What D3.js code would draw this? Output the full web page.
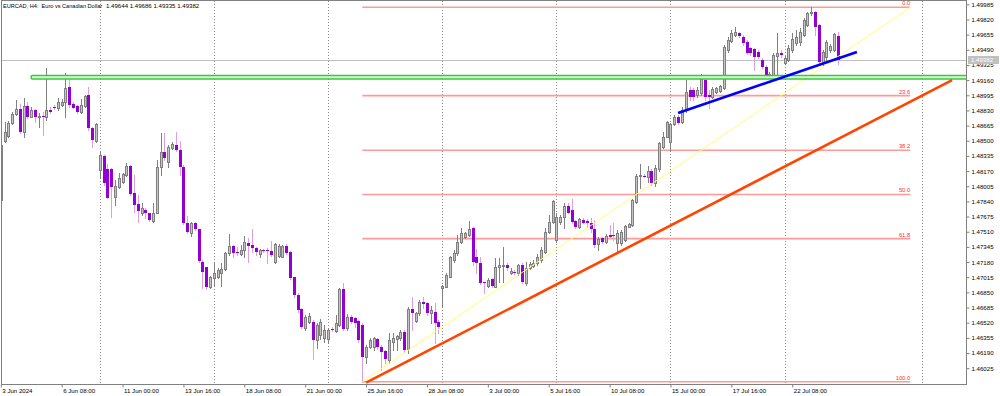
<!DOCTYPE html>
<html>
<head>
<meta charset="utf-8">
<script src="https://cdn.jsdelivr.net/npm/d3@7/dist/d3.min.js"></script>
<style>
  body { margin: 0; background: #fff; }
  svg { display: block; font-family: "Liberation Sans", Arial, sans-serif; }
</style>
</head>
<body>
<script>
// EURCAD H4 candles, one entry per bar (bar 0 = 3 Jun 16:00)
var barOpen = [1.47856,1.48501,1.48555,1.48690,1.48788,1.48843,1.48599,1.48879,1.48762,1.48835,
  1.48762,1.48770,1.48762,1.48835,1.48871,1.48854,1.48889,1.48925,1.49082,1.48900,
  1.48879,1.48817,1.48879,1.48998,1.48636,1.48501,1.48182,1.48334,1.48190,1.48193,
  1.47885,1.48001,1.48055,1.48128,1.48226,1.47929,1.47809,1.47711,1.47747,1.47711,
  1.47630,1.47717,1.48211,1.48381,1.48272,1.48418,1.48454,1.48400,1.48218,1.47602,
  1.47493,1.47602,1.47537,1.47184,1.47123,1.46912,1.47004,1.47015,1.47058,1.47102,
  1.47276,1.47355,1.47290,1.47268,1.47312,1.47391,1.47366,1.47330,1.47268,1.47312,
  1.47312,1.47304,1.47184,1.47246,1.47239,1.47358,1.47293,1.47015,1.46822,1.46666,
  1.46460,1.46531,1.46531,1.46333,1.46387,1.46354,1.46340,1.46449,1.46433,1.46496,
  1.46884,1.46460,1.46579,1.46568,1.46539,1.46496,1.46150,1.46259,1.46259,1.46340,
  1.46259,1.46216,1.46115,1.46314,1.46340,1.46351,1.46423,1.46231,1.46666,1.46542,
  1.46623,1.46749,1.46731,1.46623,1.46640,1.46531,1.46898,1.46912,1.47021,1.47203,
  1.47276,1.47402,1.47456,1.47475,1.47548,1.47239,1.47167,1.46967,1.46920,1.46993,
  1.46912,1.47123,1.47137,1.47149,1.47065,1.47075,1.47058,1.47149,1.46949,1.47113,
  1.47137,1.47167,1.47203,1.47293,1.47511,1.47616,1.47421,1.47620,1.47674,1.47790,
  1.47747,1.47630,1.47559,1.47638,1.47630,1.47609,1.47537,1.47377,1.47439,1.47402,
  1.47475,1.47475,1.47384,1.47384,1.47421,1.47565,1.47584,1.47837,1.48117,1.48117,
  1.48109,1.48175,1.48037,1.48190,1.48436,1.48544,1.48490,1.48683,1.48762,1.48708,
  1.48835,1.49053,1.49053,1.48998,1.49017,1.49161,1.48998,1.48980,1.49034,1.49045,
  1.49071,1.49488,1.49589,1.49651,1.49670,1.49633,1.49578,1.49506,1.49496,1.49469,
  1.49379,1.49306,1.49205,1.49216,1.49423,1.49459,1.49343,1.49379,1.49488,1.49561,
  1.49578,1.49651,1.49760,1.49887,1.49905,1.49760,1.49361,1.49415,1.49488,1.49488,
  1.49644];
var barHigh = [1.48509,1.48708,1.48719,1.48817,1.48944,1.48897,1.48962,1.48925,1.48871,1.48850,
  1.48799,1.48817,1.49289,1.48871,1.48889,1.48962,1.48955,1.49234,1.49161,1.48925,
  1.48889,1.48951,1.48998,1.49089,1.48653,1.48697,1.48381,1.48345,1.48248,1.48201,
  1.48074,1.48146,1.48146,1.48255,1.48237,1.48128,1.47910,1.47820,1.47765,1.47717,
  1.47820,1.48291,1.48581,1.48581,1.48454,1.48490,1.48599,1.48501,1.48237,1.47682,
  1.47620,1.47620,1.47543,1.47203,1.47130,1.47029,1.47167,1.47113,1.47167,1.47293,
  1.47486,1.47366,1.47348,1.47366,1.47464,1.47439,1.47537,1.47348,1.47319,1.47319,
  1.47330,1.47413,1.47391,1.47377,1.47366,1.47377,1.47301,1.47021,1.46840,1.46677,
  1.46605,1.46629,1.46550,1.46520,1.46557,1.46496,1.46460,1.46474,1.46605,1.46895,
  1.46949,1.46615,1.46605,1.46579,1.46550,1.46514,1.46278,1.46351,1.46368,1.46351,
  1.46278,1.46224,1.46405,1.46405,1.46387,1.46441,1.46441,1.46694,1.46803,1.46640,
  1.46768,1.46803,1.46749,1.46702,1.46731,1.46550,1.46931,1.47065,1.47246,1.47312,
  1.47475,1.47548,1.47511,1.47630,1.47565,1.47319,1.47239,1.46967,1.47004,1.47004,
  1.47221,1.47221,1.47341,1.47167,1.47113,1.47094,1.47159,1.47167,1.47184,1.47184,
  1.47203,1.47268,1.47348,1.47548,1.47693,1.47856,1.47714,1.47693,1.47826,1.47820,
  1.47863,1.47638,1.47657,1.47657,1.47646,1.47657,1.47638,1.47450,1.47450,1.47486,
  1.47584,1.47609,1.47530,1.47530,1.47584,1.47609,1.47863,1.48139,1.48248,1.48139,
  1.48226,1.48190,1.48237,1.48490,1.48599,1.48719,1.48697,1.48781,1.48781,1.48871,
  1.49161,1.49082,1.49071,1.49082,1.49227,1.49180,1.49053,1.49082,1.49089,1.49107,
  1.49542,1.49633,1.49706,1.49735,1.49687,1.49651,1.49597,1.49524,1.49506,1.49488,
  1.49398,1.49325,1.49248,1.49452,1.49670,1.49488,1.49423,1.49542,1.49670,1.49706,
  1.49724,1.49833,1.49905,1.49953,1.49916,1.49771,1.49488,1.49597,1.49553,1.49676,
  1.49686];
var barLow = [1.47725,1.48490,1.48544,1.48683,1.48781,1.48581,1.48544,1.48745,1.48756,1.48701,
  1.48653,1.48563,1.48726,1.48806,1.48846,1.48835,1.48879,1.48762,1.48871,1.48854,
  1.48806,1.48806,1.48871,1.48617,1.48429,1.48490,1.48092,1.48019,1.47874,1.47674,
  1.47802,1.47983,1.48037,1.48117,1.47910,1.47728,1.47620,1.47693,1.47657,1.47630,
  1.47620,1.47711,1.48128,1.48291,1.48211,1.48407,1.48392,1.48128,1.47594,1.47493,
  1.47467,1.47530,1.47184,1.46895,1.46884,1.46895,1.46931,1.47004,1.46920,1.47094,
  1.47258,1.47239,1.47258,1.47258,1.47239,1.47184,1.47293,1.47258,1.47239,1.47293,
  1.47167,1.47246,1.47173,1.47239,1.47232,1.47268,1.46993,1.46803,1.46640,1.46460,
  1.46441,1.46520,1.46122,1.46242,1.46340,1.46310,1.46296,1.46430,1.46423,1.46485,
  1.46441,1.46441,1.46514,1.46470,1.46314,1.45878,1.46079,1.46242,1.46224,1.46238,
  1.46006,1.46079,1.46079,1.46224,1.46224,1.46333,1.46205,1.46187,1.46441,1.46531,
  1.46605,1.46677,1.46605,1.46514,1.46296,1.46405,1.46691,1.46906,1.47015,1.47184,
  1.47258,1.47384,1.47439,1.47464,1.47149,1.47058,1.46942,1.46847,1.46912,1.46912,
  1.46906,1.46967,1.46967,1.47094,1.47050,1.47050,1.47040,1.46956,1.46931,1.47102,
  1.47123,1.47149,1.47184,1.47282,1.47493,1.47605,1.47402,1.47594,1.47548,1.47711,
  1.47609,1.47548,1.47548,1.47602,1.47565,1.47511,1.47348,1.47312,1.47391,1.47384,
  1.47450,1.47421,1.47293,1.47366,1.47413,1.47559,1.47573,1.47820,1.47983,1.48103,
  1.48055,1.48019,1.48008,1.48175,1.48418,1.48538,1.48400,1.48672,1.48683,1.48697,
  1.48817,1.48944,1.48944,1.48980,1.48998,1.48944,1.48854,1.48962,1.49017,1.49034,
  1.49060,1.49469,1.49578,1.49640,1.49633,1.49542,1.49444,1.49433,1.49270,1.49398,
  1.49289,1.49205,1.49194,1.49205,1.49216,1.49415,1.49336,1.49371,1.49469,1.49542,
  1.49542,1.49640,1.49749,1.49869,1.49651,1.49343,1.49325,1.49379,1.49466,1.49480,
  1.49335];
var barClose = [1.48454,1.48592,1.48697,1.48791,1.48843,1.48599,1.48879,1.48762,1.48835,1.48762,
  1.48770,1.48762,1.48835,1.48817,1.48857,1.48919,1.48925,1.49071,1.48889,1.48860,
  1.48817,1.48889,1.48987,1.48636,1.48509,1.48683,1.48345,1.48037,1.47881,1.48001,
  1.48008,1.48092,1.48135,1.48226,1.47921,1.47802,1.47739,1.47765,1.47711,1.47638,
  1.47717,1.48211,1.48381,1.48309,1.48429,1.48465,1.48400,1.48218,1.47602,1.47511,
  1.47609,1.47537,1.47195,1.47075,1.46912,1.47015,1.47058,1.47094,1.47105,1.47282,
  1.47355,1.47282,1.47282,1.47312,1.47402,1.47355,1.47330,1.47293,1.47312,1.47308,
  1.47304,1.47258,1.47377,1.47358,1.47355,1.47276,1.47004,1.46822,1.46659,1.46477,
  1.46586,1.46593,1.46333,1.46496,1.46531,1.46441,1.46441,1.46443,1.46514,1.46884,
  1.46449,1.46586,1.46531,1.46514,1.46333,1.46150,1.46259,1.46333,1.46351,1.46253,
  1.46205,1.46122,1.46333,1.46351,1.46376,1.46423,1.46224,1.46666,1.46623,1.46629,
  1.46749,1.46724,1.46623,1.46659,1.46520,1.46477,1.46920,1.47040,1.47232,1.47276,
  1.47402,1.47500,1.47493,1.47537,1.47184,1.47167,1.46949,1.46949,1.46985,1.46920,
  1.47123,1.47149,1.47149,1.47113,1.47083,1.47065,1.47149,1.46967,1.47113,1.47156,
  1.47173,1.47239,1.47312,1.47511,1.47620,1.47848,1.47674,1.47674,1.47790,1.47717,
  1.47620,1.47559,1.47646,1.47609,1.47609,1.47537,1.47366,1.47428,1.47402,1.47464,
  1.47456,1.47464,1.47500,1.47511,1.47573,1.47594,1.47856,1.48117,1.48122,1.48109,
  1.48175,1.48037,1.48201,1.48473,1.48544,1.48708,1.48683,1.48762,1.48690,1.48835,
  1.49034,1.48980,1.48980,1.49053,1.49169,1.48980,1.48980,1.49060,1.49071,1.49096,
  1.49524,1.49597,1.49670,1.49687,1.49640,1.49561,1.49459,1.49459,1.49408,1.49415,
  1.49306,1.49216,1.49227,1.49433,1.49459,1.49433,1.49398,1.49506,1.49604,1.49633,
  1.49687,1.49814,1.49887,1.49905,1.49742,1.49361,1.49466,1.49578,1.49531,1.49662,
  1.49382];

// axes
var yTicks = [1.49985,1.49820,1.49655,1.49490,1.49325,1.49160,1.48995,1.48830,1.48665,
  1.48500,1.48335,1.48170,1.48005,1.47840,1.47675,1.47510,1.47345,1.47180,1.47015,
  1.46850,1.46685,1.46520,1.46355,1.46190,1.46025];
var xTickBars = [0,16,32,48,64,80,96,112,128,144,160,176,192,208];
var xTickLabels = ["3 Jun 2024","6 Jun 08:00","11 Jun 00:00","13 Jun 16:00","18 Jun 08:00",
  "21 Jun 00:00","25 Jun 16:00","28 Jun 08:00","3 Jul 00:00","5 Jul 16:00","10 Jul 08:00",
  "15 Jul 00:00","17 Jul 16:00","22 Jul 08:00"];
var gridBars = [26,56,86,116,146,176,206,242];

// objects on the chart
var fibLevels = [0, 23.6, 38.2, 50, 61.8, 100];
var fibBars = [95, 239];
var fibPrices = [1.45878, 1.49953];   // 100% low, 0% high
var zoneBars = [8, 260];
var zonePrices = [1.49210, 1.49172];
var supportBars = [96, 250], supportPrices = [1.45867, 1.49160];
var channelBars = [178, 225], channelPrices = [1.48802, 1.49466];

var width = 1000, height = 396,
    plotLeft = 2, plotRight = 966, plotTop = 1, plotBottom = 384,
    barStep = 3.805,
    lastBar = barOpen.length - 1,
    fontSize = '6.1px',
    svg, plot, x, y;

x = d3.scaleLinear().domain([0, 220]).range([0.8, 0.8 + 220 * barStep]);
y = d3.scaleLinear().domain([1.46025, 1.49985]).range([368.2, 4.3]);

svg = d3.select('body').append('svg')
    .attr('width', width)
    .attr('height', height);

svg.append('rect').attr('width', width).attr('height', height).attr('fill', '#fff');

svg.append('defs').append('clipPath').attr('id', 'plotclip')
  .append('rect')
    .attr('x', plotLeft).attr('y', plotTop)
    .attr('width', plotRight - plotLeft).attr('height', plotBottom - plotTop);

plot = svg.append('g').attr('clip-path', 'url(#plotclip)');

// weekly separators
plot.selectAll('line.grid')
    .data(gridBars)
    .enter().append('line')
    .attr('class', 'grid')
    .attr('x1', function(d) { return Math.round(x(d)) + 0.5; })
    .attr('x2', function(d) { return Math.round(x(d)) + 0.5; })
    .attr('y1', plotTop)
    .attr('y2', plotBottom)
    .attr('stroke', '#8c8c8c')
    .attr('stroke-dasharray', '1,2');

// fibonacci levels
var fibRange = fibPrices[1] - fibPrices[0];
plot.selectAll('line.fib')
    .data(fibLevels)
    .enter().append('line')
    .attr('x1', x(fibBars[0]))
    .attr('x2', x(fibBars[1]))
    .attr('y1', function(d) { return y(fibPrices[1] - d / 100 * fibRange); })
    .attr('y2', function(d) { return y(fibPrices[1] - d / 100 * fibRange); })
    .attr('stroke', '#ff9a9a')
    .attr('stroke-width', 1.6);

plot.selectAll('text.fib')
    .data(fibLevels)
    .enter().append('text')
    .attr('x', x(fibBars[1]))
    .attr('y', function(d) { return y(fibPrices[1] - d / 100 * fibRange) - 2; })
    .attr('text-anchor', 'end')
    .attr('font-size', '5.8px')
    .attr('fill', '#ff3030')
    .text(function(d) { return d.toFixed(1); });

// current price line
plot.append('line')
    .attr('x1', plotLeft).attr('x2', plotRight)
    .attr('y1', Math.round(y(barClose[lastBar])) + 0.5)
    .attr('y2', Math.round(y(barClose[lastBar])) + 0.5)
    .attr('stroke', '#c0c0c0');

// candles
var bar = plot.selectAll('g.bar')
    .data(d3.range(barOpen.length))
    .enter().append('g')
    .attr('class', 'bar');

function up(i) { return barClose[i] >= barOpen[i]; }
function cx(i) { return Math.round(x(i)); }

bar.append('line')
    .attr('x1', function(i) { return cx(i) + 0.5; })
    .attr('x2', function(i) { return cx(i) + 0.5; })
    .attr('y1', function(i) { return Math.round(y(Math.max(barHigh[i], barOpen[i], barClose[i]))); })
    .attr('y2', function(i) { return Math.round(y(Math.min(barLow[i], barOpen[i], barClose[i]))) + 1; })
    .attr('stroke', function(i) { return up(i) ? '#808080' : '#dda0dd'; });

bar.append('rect')
    .attr('x', function(i) { return up(i) ? cx(i) - 0.5 : cx(i) - 1; })
    .attr('width', function(i) { return up(i) ? 2 : 3; })
    .attr('y', function(i) {
      var t = Math.round(y(Math.max(barOpen[i], barClose[i])));
      return up(i) ? t + 0.5 : t;
    })
    .attr('height', function(i) {
      var h = Math.round(y(Math.min(barOpen[i], barClose[i]))) - Math.round(y(Math.max(barOpen[i], barClose[i])));
      return Math.max(h, 1);
    })
    .attr('fill', function(i) { return up(i) ? '#c4c4c4' : '#9400d3'; })
    .attr('stroke', function(i) { return up(i) ? '#808080' : 'none'; });

// fib diagonal
plot.append('line')
    .attr('x1', x(fibBars[0])).attr('y1', y(fibPrices[0]))
    .attr('x2', x(fibBars[1])).attr('y2', y(fibPrices[1]))
    .attr('stroke', '#ffff70')
    .attr('stroke-width', 1);

// resistance zone
plot.append('rect')
    .attr('x', x(zoneBars[0]))
    .attr('y', y(zonePrices[0]))
    .attr('width', x(zoneBars[1]) - x(zoneBars[0]))
    .attr('height', y(zonePrices[1]) - y(zonePrices[0]))
    .attr('rx', 1)
    .attr('fill', '#e4f8e4')
    .attr('stroke', '#33cc33')
    .attr('stroke-width', 1.5);

// trend lines
plot.append('line')
    .attr('x1', x(supportBars[0])).attr('y1', y(supportPrices[0]))
    .attr('x2', x(supportBars[1])).attr('y2', y(supportPrices[1]))
    .attr('stroke', '#ff4500')
    .attr('stroke-width', 2.6);

plot.append('line')
    .attr('x1', x(channelBars[0])).attr('y1', y(channelPrices[0]))
    .attr('x2', x(channelBars[1])).attr('y2', y(channelPrices[1]))
    .attr('stroke', '#0000ff')
    .attr('stroke-width', 2.6);

// frame
svg.append('rect')
    .attr('x', 1.5).attr('y', 0.5)
    .attr('width', plotRight - 1)
    .attr('height', plotBottom)
    .attr('fill', 'none')
    .attr('stroke', '#808080');

// price axis
var yAxis = svg.append('g')
    .attr('transform', 'translate(' + (plotRight + 0.5) + ',0)')
    .call(d3.axisRight(y).tickValues(yTicks).tickSize(3).tickPadding(2)
      .tickFormat(d3.format('.5f')));
yAxis.select('.domain').remove();
yAxis.attr('font-family', null).attr('font-size', fontSize);
yAxis.selectAll('line').attr('stroke', '#808080');
yAxis.selectAll('text').attr('fill', '#000');

// current price tag
var py = y(barClose[lastBar]);
svg.append('rect')
    .attr('x', plotRight + 2).attr('y', Math.round(py) - 4)
    .attr('width', 31).attr('height', 8)
    .attr('fill', '#c0c0c0');
svg.append('text')
    .attr('x', plotRight + 5).attr('y', py)
    .attr('dy', '0.35em')
    .attr('font-size', fontSize)
    .attr('fill', '#fff')
    .text(d3.format('.5f')(barClose[lastBar]));

// time axis
var xAxis = svg.append('g')
    .attr('transform', 'translate(0,' + (plotBottom + 0.5) + ')')
    .call(d3.axisBottom(x).tickValues(xTickBars).tickSize(3).tickPadding(1)
      .tickFormat(function(d, i) { return xTickLabels[i]; }));
xAxis.select('.domain').remove();
xAxis.attr('font-family', null).attr('font-size', fontSize);
xAxis.selectAll('line').attr('stroke', '#808080');
xAxis.selectAll('text').attr('fill', '#000').attr('text-anchor', 'start').attr('dx', '1');

// header
var head = svg.append('g').attr('font-size', '5.6px').attr('fill', '#000');
head.append('text').attr('x', 3).attr('y', 8)
    .style('white-space', 'pre')
    .text('EURCAD, H4:  Euro vs Canadian Dollar');
head.append('text').attr('x', 106).attr('y', 8).attr('font-size', fontSize)
    .text([barOpen[lastBar], barHigh[lastBar], barLow[lastBar], barClose[lastBar]]
      .map(d3.format('.5f')).join(' '));
</script>
</body>
</html>
